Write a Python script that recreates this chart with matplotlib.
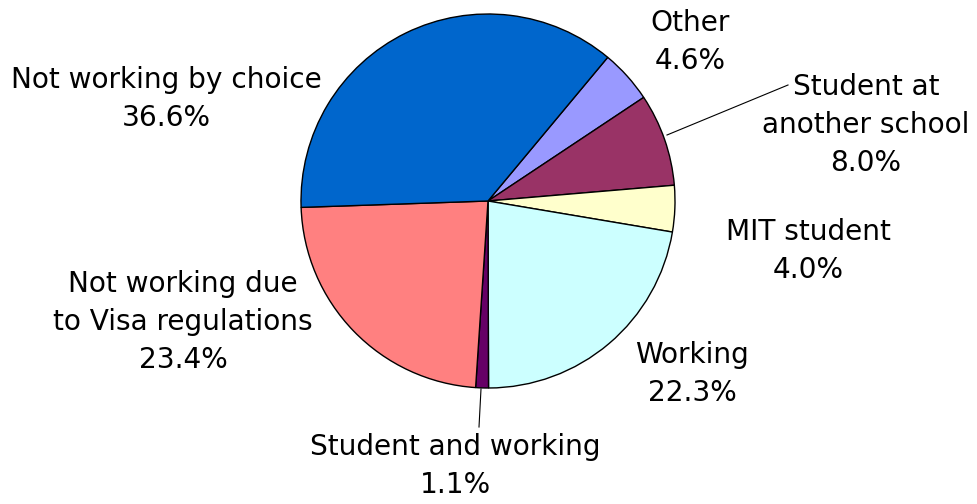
import matplotlib.pyplot as plt

# slice data, clockwise from "Other"
labels = ["Other", "Student at\nanother school", "MIT student", "Working",
          "Student and working", "Not working due\nto Visa regulations",
          "Not working by choice"]
shares = [4.6, 8.0, 4.0, 22.3, 1.1, 23.4, 36.6]
colors = ["#9999FF", "#993366", "#FFFFCC", "#CCFFFF", "#660066", "#FF8080",
          "#0066CC"]

# label centres in pixel space (x, y from top)
label_pos = [(690, 42), (866, 125), (808, 251), (692, 374), (455, 466),
             (183, 322), (166, 99)]
# leader line start/end (only a few have them)
leaders = {1: ((667, 135), (788, 85)), 4: ((481, 389), (479, 427))}

W, H = 977, 504


def main():
    fig = plt.figure(figsize=(W / 100, H / 100), dpi=100)
    ax = fig.add_axes([0, 0, 1, 1])
    ax.set_xlim(0, W)
    ax.set_ylim(0, H)
    ax.set_aspect("equal")
    ax.axis("off")

    ax.pie(shares, colors=colors, counterclock=False, startangle=90 - 39.8,
           center=(488, H - 201), radius=187,
           wedgeprops=dict(edgecolor="black", linewidth=1.0))
    ax.set_xlim(0, W)
    ax.set_ylim(0, H)

    for i, (lab, val) in enumerate(zip(labels, shares)):
        x, y = label_pos[i]
        ax.text(x, H - y, f"{lab}\n{val:.1f}%", ha="center", va="center",
                fontsize=20.2, linespacing=1.45, color="black")

    for i, ((x0, y0), (x1, y1)) in leaders.items():
        ax.plot([x0, x1], [H - y0, H - y1], color="black", linewidth=0.8)

    fig.savefig("out.png", dpi=100)


if __name__ == "__main__":
    main()
